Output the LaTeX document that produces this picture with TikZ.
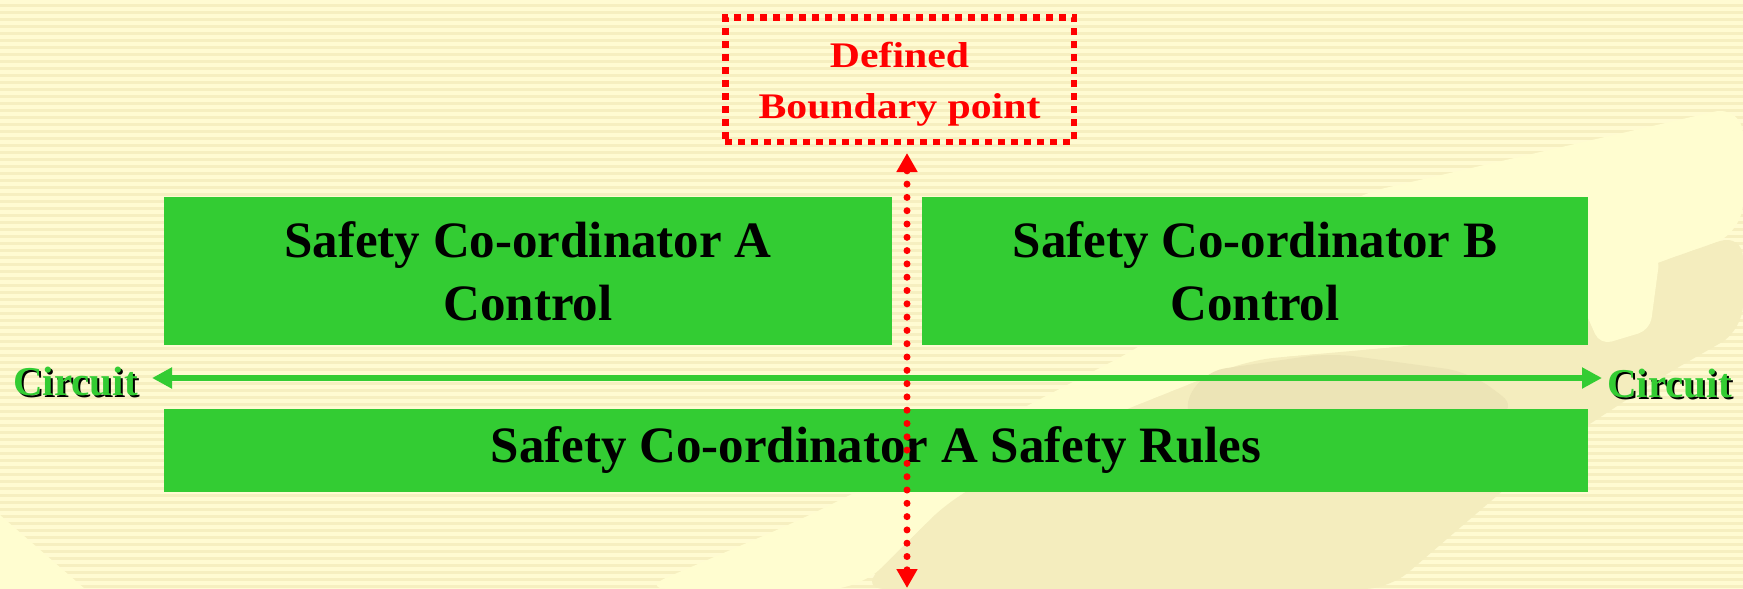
\documentclass[tikz,border=0pt]{standalone}
\usepackage{fontspec}
\usepackage{graphicx}
\setmainfont{Liberation Serif}
\usetikzlibrary{arrows.meta}
\definecolor{cgreen}{RGB}{51,204,51}
\definecolor{cred}{RGB}{255,0,0}
\definecolor{bgbase}{RGB}{246,239,192}
\definecolor{bgstripe}{RGB}{255,251,210}
\definecolor{bglight}{RGB}{255,253,208}
\definecolor{bgdark}{RGB}{244,237,190}
\definecolor{bgdarker}{RGB}{236,228,182}
\newcommand\shadowtxt[1]{\makebox[0pt][l]{\hspace*{2pt}\raisebox{-2pt}{\color{black}#1}}\textcolor{cgreen}{#1}}
\tikzset{
  greenbox/.style={fill=cgreen, draw=none, inner sep=0pt, align=center,
    font=\fontsize{51}{63}\selectfont\bfseries, text=black},
  boundbox/.style={draw=cred, line width=6.5pt, dash pattern=on 7pt off 6pt, inner sep=0pt},
  boundtext/.style={inner sep=0pt, align=center, font=\fontsize{36}{51}\selectfont\bfseries, text=cred},
  circuitlbl/.style={inner sep=0pt, font=\fontsize{41}{41}\selectfont\bfseries},
  garrow/.style={draw=cgreen, line width=6pt, {Triangle[length=20pt,width=20pt]}-{Triangle[length=20pt,width=20pt]}},
  rarrow/.style={draw=cred, line width=7pt, line cap=round, dash pattern=on 0pt off 13.3pt,
    {Triangle[length=19pt,width=20pt]}-{Triangle[length=19pt,width=20pt]}}
}
\begin{document}
\begin{tikzpicture}[x=1pt,y=-1pt]
\useasboundingbox (0,0) rectangle (1743,589);
% background
\fill[bgbase] (0,0) rectangle (1743,589);
\foreach \i in {0,...,84}{
  \fill[bgstripe] (0,{\i*7}) rectangle (1743,{\i*7+3.5});
}
\fill[bglight, rounded corners=30pt] (1355,195) -- (1743,105) -- (1743,233) -- (1660,262) -- (1560,300) -- (1420,345) -- (1250,360) -- (1100,420) -- (950,500) -- (860,589) -- (640,589) -- (800,520) -- (1000,420) -- (1142,346) -- cycle;
\fill[bgdark, rounded corners=25pt] (1743,233) -- (1743,330) -- (1663,376) -- (1550,450) -- (1389,589) -- (860,589) -- (950,500) -- (1100,420) -- (1250,360) -- (1420,345) -- (1560,300) -- (1660,262) -- cycle;
\fill[bglight, rounded corners=12pt] (1600,262) -- (1660,255) -- (1650,330) -- (1600,345) -- (1580,300) -- cycle;
\fill[bgdarker, rounded corners=25pt] (1200,372) -- (1330,353) -- (1470,372) -- (1521,410) -- (1420,430) -- (1250,440) -- (1180,420) -- cycle;
\fill[bglight] (0,515) -- (85,589) -- (0,589) -- cycle;
% boxes
\node[greenbox, minimum width=728pt, minimum height=148pt] (boxA) at (528,271) {Safety Co-ordinator A\\Control};
\node[greenbox, minimum width=666pt, minimum height=148pt] (boxB) at (1255,271) {Safety Co-ordinator B\\Control};
\node[greenbox, minimum width=1424pt, minimum height=83pt] (boxC) at (876,450.5) {Safety Co-ordinator A Safety Rules};
% circuit labels and arrow
\node[circuitlbl, anchor=base west] (cl) at (13,395) {\shadowtxt{Circuit}};
\node[circuitlbl, anchor=base west] (cr) at (1607,397) {\shadowtxt{Circuit}};
\coordinate (ga) at (152,378);
\coordinate (gb) at (1602,378);
\draw[garrow] (ga) -- (gb);
% boundary box
\node[boundbox, minimum width=348.5pt, minimum height=124.5pt] (bnd) at (899.5,79.5) {};
\node[boundtext, anchor=base] (bndtxt) at (899.5,118) {\scalebox{1.16}[1]{Defined}\\\scalebox{1.16}[1]{Boundary point}};
\coordinate (rt) at (907,153);
\coordinate (rb) at (907,588);
\draw[rarrow] (rt) -- (rb);
\end{tikzpicture}
\end{document}
